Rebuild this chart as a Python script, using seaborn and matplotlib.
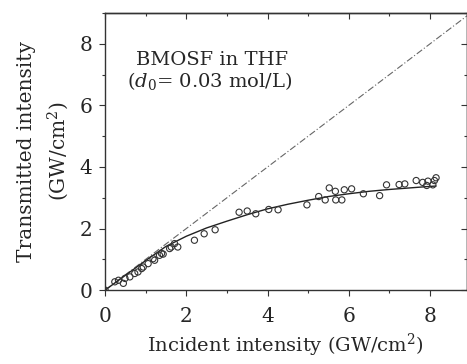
import numpy as np
import pandas as pd
import matplotlib
matplotlib.use("Agg")
import matplotlib.pyplot as plt
import seaborn as sns
from matplotlib.ticker import MultipleLocator

# measured points
meas_x = [0.0, 0.24, 0.33, 0.45, 0.49, 0.61, 0.73, 0.81, 0.90, 0.94, 1.06, 1.18, 1.22, 1.34, 1.39, 1.43,
          1.59, 1.63, 1.71, 1.79, 2.20, 2.44, 2.71, 3.30, 3.50, 3.71, 4.03, 4.26, 4.97, 5.26,
          5.42, 5.52, 5.67, 5.68, 5.83, 5.89, 6.07, 6.36, 6.76, 6.93, 7.24, 7.38, 7.66, 7.82,
          7.92, 7.95, 8.07, 8.11, 8.15]
meas_y = [0.0, 0.27, 0.32, 0.22, 0.38, 0.43, 0.54, 0.59, 0.70, 0.75, 0.86, 1.02, 0.97, 1.13, 1.19, 1.17,
          1.35, 1.40, 1.51, 1.40, 1.62, 1.83, 1.96, 2.53, 2.57, 2.48, 2.62, 2.61, 2.77, 3.04,
          2.93, 3.32, 3.21, 2.93, 2.93, 3.26, 3.29, 3.13, 3.07, 3.42, 3.43, 3.45, 3.56, 3.50,
          3.40, 3.54, 3.42, 3.56, 3.65]

# fitted curve
fit_x = [0, 0.5, 1.0, 1.5, 2.0, 2.5, 3.0, 3.5, 4.0, 4.5, 5.0, 5.5, 6.0, 6.5, 7.0, 7.5, 8.0, 8.15]
fit_y = [0, 0.48, 0.96, 1.42, 1.75, 2.02, 2.24, 2.45, 2.64, 2.79, 2.92, 3.04, 3.13, 3.21, 3.27, 3.32, 3.37, 3.38]

# linear reference
lin_x = [0, 9]
lin_y = [0, 9]

x_ticks = [0, 2, 4, 6, 8]
y_ticks = [0, 2, 4, 6, 8]

sns.set_style("ticks")
plt.rcParams['font.family'] = ['DejaVu Serif']
plt.rcParams['mathtext.fontset'] = 'dejavuserif'

fig = plt.figure(figsize=(4.67, 3.64), dpi=100)
ax = fig.add_axes([0.225, 0.203, 0.774, 0.761])

df_m = pd.DataFrame({"x": meas_x, "y": meas_y})
df_f = pd.DataFrame({"x": fit_x, "y": fit_y})
df_l = pd.DataFrame({"x": lin_x, "y": lin_y})

sns.lineplot(data=df_l, x="x", y="y", ax=ax, color="#666666", lw=0.8,
             linestyle=(0, (6, 2, 1, 2)), sort=False)
sns.lineplot(data=df_f, x="x", y="y", ax=ax, color="#222222", lw=1.0, sort=False)
sns.scatterplot(data=df_m, x="x", y="y", ax=ax, marker="o", s=20,
                facecolor="none", edgecolor="#333333", linewidth=0.8, zorder=3)

ax.set_xlim(0, 8.9)
ax.set_ylim(0, 9.0)
ax.set_xticks(x_ticks)
ax.set_yticks(y_ticks)
ax.xaxis.set_minor_locator(MultipleLocator(1))
ax.yaxis.set_minor_locator(MultipleLocator(1))
ax.tick_params(which="both", labelsize=14.5, color="#333333", direction="out",
               top=False, right=False)
ax.tick_params(axis="x", pad=8)
ax.tick_params(axis="y", pad=5)
ax.tick_params(which="major", length=4, width=0.8)
ax.tick_params(which="minor", length=2.5, width=0.8)

# inward ticks on top and right
for side in ("top", "right"):
    if side == "top":
        sec = ax.secondary_xaxis("top")
        sec.set_xticks(x_ticks)
        sec.xaxis.set_minor_locator(MultipleLocator(1))
        sec.tick_params(labeltop=False)
    else:
        sec = ax.secondary_yaxis("right")
        sec.set_yticks(y_ticks)
        sec.yaxis.set_minor_locator(MultipleLocator(1))
        sec.tick_params(labelright=False)
    sec.tick_params(which="both", direction="in", color="#333333", width=0.8)
    sec.tick_params(which="major", length=4)
    sec.tick_params(which="minor", length=2.5)
    for s in sec.spines.values():
        s.set_linewidth(1.0)
        s.set_color("#333333")

for s in ax.spines.values():
    s.set_linewidth(1.0)
    s.set_color("#333333")

ax.set_xlabel("Incident intensity (GW/cm$^2$)", fontsize=14, labelpad=4)
ax.set_ylabel("Transmitted intensity\n(GW/cm$^2$)", fontsize=14.5, labelpad=6, linespacing=1.5)

ax.text(0.085, 0.83, "BMOSF in THF", transform=ax.transAxes, fontsize=14, va="center")
ax.text(0.06, 0.755, "($d_0$= 0.03 mol/L)", transform=ax.transAxes, fontsize=14, va="center")

fig.savefig("out.png", dpi=100)
